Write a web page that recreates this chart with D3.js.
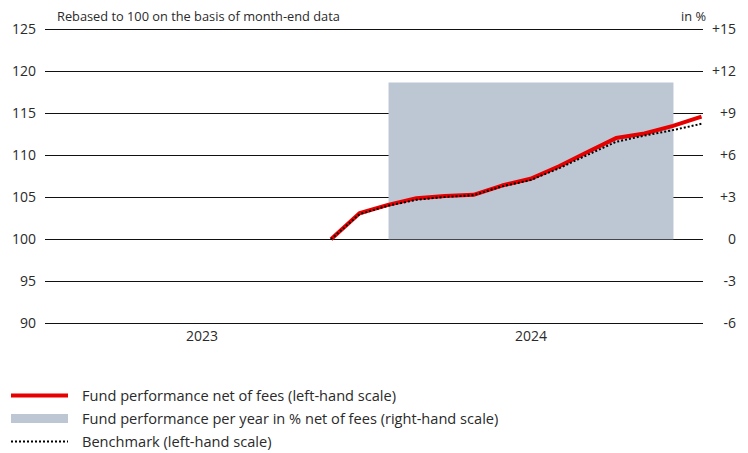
<!DOCTYPE html>
<html><head><meta charset="utf-8">
<script src="https://cdn.jsdelivr.net/npm/d3@7"></script>
<style>body{margin:0;background:#fff;} svg{display:block;font-family:"Open Sans",sans-serif;}</style>
</head><body><svg id="c" width="748" height="453"></svg>
<script>
const years = ["2023", "2024"];
const yearPerf = [null, 11.2];
const months = ["2023-10","2023-11","2023-12","2024-01","2024-02","2024-03","2024-04","2024-05","2024-06","2024-07","2024-08","2024-09","2024-10","2024-11"];
const fund = [100, 103.1, 104.1, 104.9, 105.15, 105.3, 106.4, 107.2, 108.7, 110.4, 112.05, 112.6, 113.5, 114.6];
const bench = [100, 103.0, 104.0, 104.7, 105.05, 105.25, 106.3, 107.05, 108.45, 110.05, 111.6, 112.35, 113.0, 113.75];
const leftTicks = [90, 95, 100, 105, 110, 115, 120, 125];
const rightTicks = [-6, -3, 0, 3, 6, 9, 12, 15];
const legendLabels = ["Fund performance net of fees (left-hand scale)", "Fund performance per year in % net of fees (right-hand scale)", "Benchmark (left-hand scale)"];

const svg = d3.select("#c");
const x0 = 45, x1 = 703;
const yL = d3.scaleLinear().domain([90, 125]).range([323.3, 29.3]);
const yR = d3.scaleLinear().domain([-6, 15]).range([323.3, 29.3]);
const xBand = d3.scaleBand().domain(years).range([37.5, 695.5]).paddingInner(0.134).paddingOuter(0.067);
const xM = d3.scalePoint().domain(months).range([331, 701.5]);

// gridlines
svg.append("g").selectAll("line").data(leftTicks).join("line")
  .attr("x1", x0).attr("x2", x1).attr("y1", d => Math.round(yL(d)) + 0.5).attr("y2", d => Math.round(yL(d)) + 0.5)
  .attr("stroke", "#111").attr("stroke-width", 1.1);

// left labels
svg.append("g").selectAll("text").data(leftTicks).join("text")
  .attr("x", 36).attr("y", d => yL(d) + 5).attr("text-anchor", "end")
  .attr("font-size", 14).attr("fill", "#2a2a2a").text(d => d);
// right labels
svg.append("g").selectAll("text").data(rightTicks).join("text")
  .attr("x", 736).attr("y", d => yR(d) + 5).attr("text-anchor", "end")
  .attr("font-size", 14).attr("fill", "#2a2a2a").text(d => d > 0 ? "+" + d : d);

svg.append("text").attr("x", 57).attr("y", 21).attr("font-size", 12.8).attr("fill", "#2a2a2a").text("Rebased to 100 on the basis of month-end data");
svg.append("text").attr("x", 706).attr("y", 21).attr("font-size", 12.8).attr("fill", "#2a2a2a").attr("text-anchor", "end").text("in %");

// bars
svg.append("g").selectAll("rect").data(years.map((y, i) => ({y, v: yearPerf[i]})).filter(d => d.v != null)).join("rect")
  .attr("x", d => xBand(d.y)).attr("width", xBand.bandwidth())
  .attr("y", d => yR(Math.max(0, d.v))).attr("height", d => Math.abs(yR(d.v) - yR(0)))
  .attr("fill", "#bdc7d4");

// x labels
svg.append("g").selectAll("text").data(years).join("text")
  .attr("x", d => xBand(d) + xBand.bandwidth() / 2).attr("y", 341).attr("text-anchor", "middle")
  .attr("font-size", 14).attr("fill", "#2a2a2a").text(d => d);

const line = d3.line().x((d, i) => xM(months[i])).y(d => yL(d));
svg.append("path").attr("d", line(fund)).attr("fill", "none").attr("stroke", "#e60000").attr("stroke-width", 4).attr("stroke-linejoin", "round");
svg.append("path").attr("d", line(bench)).attr("fill", "none").attr("stroke", "#000").attr("stroke-width", 2).attr("stroke-dasharray", "2,2");

// legend
const lg = svg.append("g");
const rows = [395.5, 418.5, 441.5];
lg.append("line").attr("x1", 11).attr("x2", 68).attr("y1", rows[0]).attr("y2", rows[0]).attr("stroke", "#e60000").attr("stroke-width", 4);
lg.append("rect").attr("x", 11).attr("y", rows[1] - 4.5).attr("width", 57).attr("height", 9).attr("fill", "#bdc7d4");
lg.append("line").attr("x1", 11).attr("x2", 68).attr("y1", rows[2]).attr("y2", rows[2]).attr("stroke", "#000").attr("stroke-width", 2).attr("stroke-dasharray", "2,2");
lg.selectAll("text").data(legendLabels).join("text")
  .attr("x", 82).attr("y", (d, i) => rows[i] + 5).attr("font-size", 14.6).attr("fill", "#2a2a2a").text(d => d);
</script></body></html>
